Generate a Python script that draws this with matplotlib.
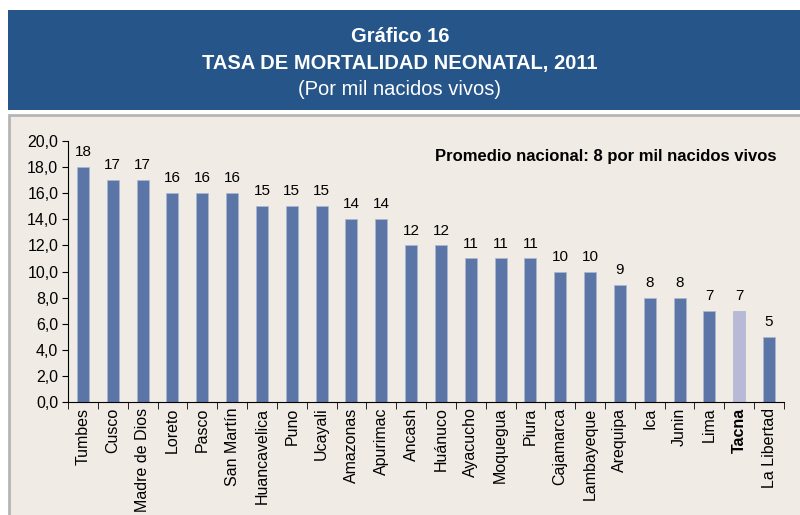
import matplotlib.pyplot as plt
from matplotlib.patches import Rectangle

regiones = ['Tumbes', 'Cusco', 'Madre de Dios', 'Loreto', 'Pasco', 'San Martín',
            'Huancavelica', 'Puno', 'Ucayali', 'Amazonas', 'Apurimac', 'Ancash',
            'Huánuco', 'Ayacucho', 'Moquegua', 'Piura', 'Cajamarca', 'Lambayeque',
            'Arequipa', 'Ica', 'Junin', 'Lima', 'Tacna', 'La Libertad']
tasas = [18, 17, 17, 16, 16, 16, 15, 15, 15, 14, 14, 12, 12, 11, 11, 11, 10, 10,
         9, 8, 8, 7, 7, 5]
destacado = 'Tacna'
yticks = [0, 2, 4, 6, 8, 10, 12, 14, 16, 18, 20]

fig = plt.figure(figsize=(8, 5.15), dpi=100)
fig.patch.set_facecolor('white')

# header box
fig.patches.append(Rectangle((8/800, 1-110/515), 1, 100/515, transform=fig.transFigure,
                             facecolor='#26558A', edgecolor='none', zorder=-2))
fig.text(0.5, 1-37/515, 'Gráfico 16', ha='center', va='center', color='white',
         fontsize=14.5, fontweight='bold', family='Liberation Sans')
fig.text(0.5, 1-64/515, 'TASA DE MORTALIDAD NEONATAL, 2011', ha='center', va='center',
         color='white', fontsize=14.5, fontweight='bold', family='Liberation Sans')
fig.text(0.5, 1-89/515, '(Por mil nacidos vivos)', ha='center', va='center', color='white',
         fontsize=14.5, family='Liberation Sans')

# chart panel
fig.patches.append(Rectangle((9/800, -0.01), 1, (515-115)/515 + 0.01, transform=fig.transFigure,
                             facecolor='#F1EBE5', edgecolor='#B5B5B5', linewidth=2, zorder=-2))

ax = fig.add_axes([68/800, 1-402/515, (784-68)/800, (402-141)/515])
ax.set_facecolor('none')
x = list(range(len(regiones)))
colores = ['#B7B9D6' if r == destacado else '#5B76A6' for r in regiones]
ax.bar(x, tasas, width=0.4, color=colores, edgecolor='#A9B8D2', linewidth=0.5, zorder=2)
for xi, v in zip(x, tasas):
    ax.text(xi, v + 0.6, str(v), ha='center', va='bottom', fontsize=11, family='Liberation Sans')

ax.set_xlim(-0.5, len(regiones) - 0.5)
ax.set_ylim(0, 20)
ax.set_yticks(yticks)
ax.set_yticklabels([f'{t:.1f}'.replace('.', ',') for t in yticks], fontsize=11.5,
                   family='Liberation Sans')
ax.set_xticks(x)
ax.set_xticklabels(regiones, rotation=90, fontsize=11.5, family='Liberation Sans')
for lab in ax.get_xticklabels():
    if lab.get_text() == destacado:
        lab.set_fontweight('bold')
ax.tick_params(axis='x', length=0, pad=4)
ax.set_xticks([i - 0.5 for i in range(len(regiones) + 1)], minor=True)
ax.tick_params(axis='x', which='minor', length=5, direction='out')
ax.tick_params(axis='y', length=4, direction='out', pad=3)
for s in ['top', 'right']:
    ax.spines[s].set_visible(False)
ax.spines['left'].set_linewidth(0.8)
ax.spines['bottom'].set_linewidth(0.8)

ax.text(0.99, 0.94, 'Promedio nacional: 8 por mil nacidos vivos', transform=ax.transAxes,
        ha='right', va='center', fontsize=12, fontweight='bold', family='Liberation Sans')

fig.savefig('out.png', dpi=100)
